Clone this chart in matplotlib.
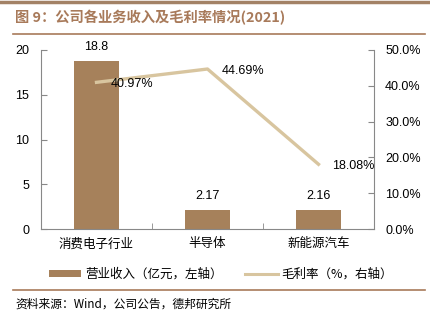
"""Company business revenue and gross margin, 2021."""

import matplotlib

matplotlib.use("Agg")
import matplotlib.pyplot as plt
from matplotlib.lines import Line2D
from matplotlib.patches import Patch

plt.rcParams["font.family"] = ["Liberation Sans", "Noto Sans CJK SC", "DejaVu Sans"]

categories = ["消费电子行业", "半导体", "新能源汽车"]
revenue = [18.8, 2.17, 2.16]
revenue_labels = ["18.8", "2.17", "2.16"]
margin = [40.97, 44.69, 18.08]
margin_labels = ["40.97%", "44.69%", "18.08%"]

BAR_COLOR = "#a6815b"
LINE_COLOR = "#d8c59f"
ACCENT = "#a87a5a"
CJK = ["Noto Sans CJK SC", "DejaVu Sans"]


def main() -> None:
    fig = plt.figure(figsize=(4.31, 3.32), dpi=100)
    W, H = 431, 332

    # decorative rules and title
    fig.add_artist(Line2D([0, 428 / W], [1 - 2 / H, 1 - 2 / H], color="#a38266", lw=2.5))
    fig.add_artist(Line2D([13 / W, 425 / W], [1 - 34 / H, 1 - 34 / H], color=ACCENT, lw=1.2))
    fig.add_artist(Line2D([13 / W, 425 / W], [1 - 290 / H, 1 - 290 / H], color=ACCENT, lw=1.2))
    fig.text(15 / W, 1 - 18 / H, "图 9：公司各业务收入及毛利率情况(2021)", color=ACCENT,
             fontsize=10.3, fontweight="bold", va="center", ha="left",
             family=["Noto Sans CJK SC", "DejaVu Sans"])
    fig.text(15 / W, 1 - 304 / H, "资料来源：Wind，公司公告，德邦研究所", fontsize=8.5,
             va="center", ha="left", family=CJK)

    ax = fig.add_axes([41 / W, 1 - 229 / H, 333 / W, 179 / H])
    x = list(range(len(categories)))
    ax.bar(x, revenue, width=0.4, color=BAR_COLOR, zorder=2)
    for xi, v, lab in zip(x, revenue, revenue_labels):
        ax.annotate(lab, (xi, v), xytext=(0, 10), textcoords="offset points",
                    ha="center", va="center", fontsize=9)
    ax.set_xlim(-0.5, len(categories) - 0.5)
    ax.set_ylim(0, 20)
    ax.set_yticks([0, 5, 10, 15, 20])
    ax.set_xticks(x)
    ax.set_xticklabels(categories, family=CJK, fontsize=9)
    ax.set_xticks([-0.5, 0.5, 1.5, 2.5], minor=True)
    ax.tick_params(axis="x", which="major", length=0, pad=6)
    ax.tick_params(axis="x", which="minor", direction="in", length=4, color="#888888")
    ax.tick_params(axis="y", direction="in", length=4, labelsize=9, color="#888888", pad=8.6)
    for side in ("top", "right"):
        ax.spines[side].set_visible(False)
    for side in ("left", "bottom"):
        ax.spines[side].set_color("#888888")

    ax2 = ax.twinx()
    ax2.plot(x, margin, color=LINE_COLOR, lw=2.4, zorder=3)
    for xi, v, lab in zip(x, margin, margin_labels):
        ax2.annotate(lab, (xi, v), xytext=(10, -1.5), textcoords="offset points",
                     ha="left", va="center", fontsize=9)
    ax2.set_ylim(0, 50)
    ax2.set_yticks([0, 10, 20, 30, 40, 50])
    ax2.set_yticklabels([f"{t:.1f}%" for t in [0, 10, 20, 30, 40, 50]])
    ax2.tick_params(axis="y", direction="in", length=4, labelsize=9, color="#888888", pad=8)
    for side in ("top", "left", "bottom"):
        ax2.spines[side].set_visible(False)
    ax2.spines["right"].set_color("#888888")

    handles = [Patch(facecolor=BAR_COLOR), Line2D([], [], color=LINE_COLOR, lw=2.2)]
    fig.legend(handles, ["营业收入（亿元，左轴）", "毛利率（%，右轴）"], loc="center",
               bbox_to_anchor=(221 / W, 1 - 274 / H), ncol=2, frameon=False,
               prop={"family": CJK, "size": 9}, handlelength=2.6, handleheight=0.5,
               columnspacing=1.8, handletextpad=0.3)

    fig.savefig("out.png", dpi=100)


if __name__ == "__main__":
    main()
